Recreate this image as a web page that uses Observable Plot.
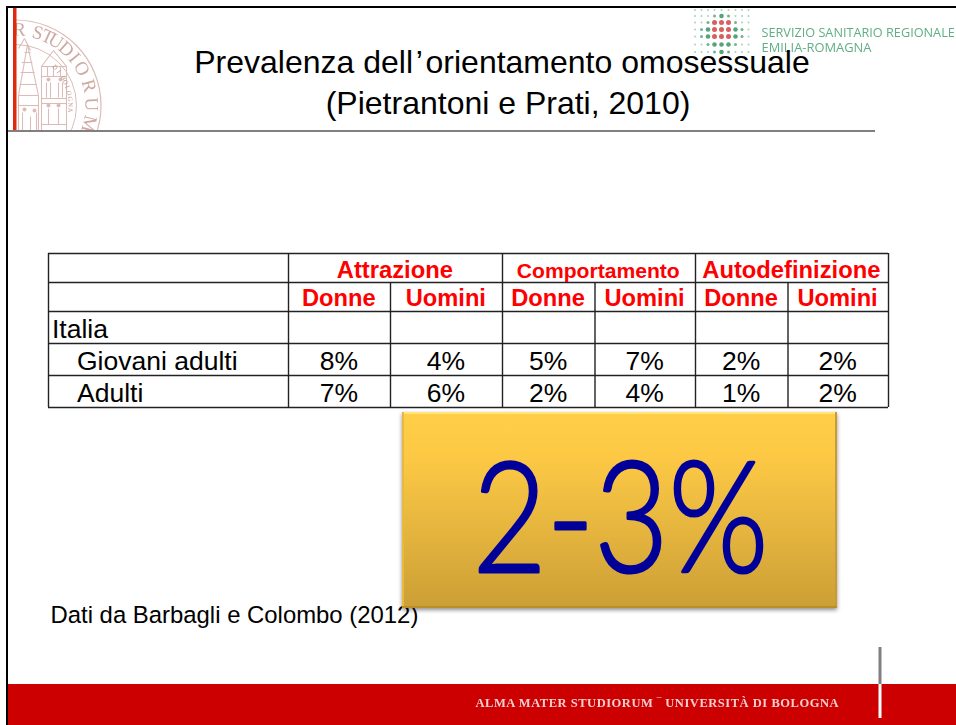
<!DOCTYPE html>
<html><head><meta charset="utf-8">
<script src="https://cdn.jsdelivr.net/npm/d3@7"></script>
<script src="https://cdn.jsdelivr.net/npm/@observablehq/plot@0.6"></script>
<style>html,body{margin:0;padding:0;background:#fff}svg{display:block}</style>
</head><body><div id="chart"></div>
<script>
// ---- Chart content ----
const titleLines = ["Prevalenza dell\u200A\u2019\u200Aorientamento omosessuale", "(Pietrantoni e Prati, 2010)"];
const groups = ["Attrazione", "Comportamento", "Autodefinizione"];
const sexes = ["Donne", "Uomini"];
const rowLabels = ["Italia", "Giovani adulti", "Adulti"];
const giovaniAdulti = [8, 4, 5, 7, 2, 2];
const adulti = [7, 6, 2, 4, 1, 2];
const callout = "2-3%";
const sourceNote = "Dati da Barbagli e Colombo (2012)";
const footerText = "ALMA MATER STUDIORUM \u203E UNIVERSIT\u00C0 DI BOLOGNA";
const regionLines = ["SERVIZIO SANITARIO REGIONALE", "EMILIA-ROMAGNA"];
const sealLetters = ["R","S","T","U","D","I","O","R","U","M"];
const sealInner = ["D","I"," ","B","O","L","O","G","N","A"];
// Logo dot matrix: 0 pale, 1 green, 2 big green, 3 red
const logoRows = [
  [0,0,0,0,0,0,0,0,0],
  [0,0,0,1,2,1,0,0,0],
  [0,0,1,3,3,3,1,0,0],
  [0,1,2,3,3,3,2,1,0],
  [0,1,2,3,3,3,2,1,0],
  [0,0,1,2,2,2,1,0,0],
  [0,0,0,1,2,1,0,0,0]
];

// ---- Layout ----
const W = 956, H = 725;
const colEdges = [48, 288, 390, 502, 594.5, 695, 787.5, 888];
const rowEdges = [253, 282, 311, 343, 375, 407];
const baselines = [277.5, 305.5, 337.5, 369.5, 401.5];
const mid = (a, b) => (a + b) / 2 - 0.7;
const font = "Liberation Sans";
const seal = "#dcbcb7";
const sealC = [15, 105];
const polar = (r, deg) => [sealC[0] + r * Math.sin(deg * Math.PI / 180), sealC[1] - r * Math.cos(deg * Math.PI / 180)];
const letterAngles = [3, 17, 25, 32, 42, 51, 61, 75, 89, 104];
const innerAngles = [46, 52, 56, 60, 65, 71, 77, 83, 89, 95];

const groupCells = groups.map((g, i) => ({g, x: mid(colEdges[1 + i * 2], colEdges[3 + i * 2]), size: g === "Comportamento" ? 21.1 : 23.75}));
const sexCells = d3.range(6).map(i => ({s: sexes[i % 2], x: mid(colEdges[i + 1], colEdges[i + 2])}));
const valueCells = [giovaniAdulti, adulti].flatMap((vals, r) => vals.map((v, i) => ({
  t: v + "%", x: mid(colEdges[i + 1], colEdges[i + 2]), y: baselines[3 + r]})));
const rowCells = rowLabels.map((t, i) => ({t, x: i ? 76.5 : 51.5, y: baselines[2 + i]}));

const hLines = rowEdges.map(y => ({y}));
const vLines = [
  {x: colEdges[0], y1: rowEdges[0], y2: rowEdges[5]},
  {x: colEdges[1], y1: rowEdges[0], y2: rowEdges[5]},
  {x: colEdges[2], y1: rowEdges[1], y2: rowEdges[5]},
  {x: colEdges[3], y1: rowEdges[0], y2: rowEdges[5]},
  {x: colEdges[4], y1: rowEdges[1], y2: rowEdges[5]},
  {x: colEdges[5], y1: rowEdges[0], y2: rowEdges[5]},
  {x: colEdges[6], y1: rowEdges[1], y2: rowEdges[5]},
  {x: colEdges[7], y1: rowEdges[0], y2: rowEdges[5]}
];
const logoX = [694.5, 701, 707.5, 714, 721, 728, 735, 741.5, 748];
const logoY = [9.5, 15.5, 22, 29, 36, 44, 51.5];
const logoFill = ["#a9d0b9", "#6fb48e", "#55a378", "#d9605f"];
const logoR = [1, 1.5, 2.3, 2.5];
const logoDots = logoRows.flatMap((row, j) => row.map((k, i) => ({x: logoX[i], y: logoY[j], k, size: logoR[k], color: logoFill[k]})));

// seal drawing: simplified towers and figures
const sealSegs = [
  [27,44,18,95],[27,44,38,95],[18,95,38,95],[18,105,38,105],[18,95,18,130],[38,95,38,130],
  [20,72,34,72],[21,62,32,62],[19,84,36,84],[24,52,30,52],
  [41,66,66,66],[41,66,53,50],[66,66,53,50],[41,66,41,130],[66,66,66,130],
  [41,76,66,76],[41,98,66,98],[41,103,66,103],[41,124,66,124],[47,66,47,76],[53,66,53,76],[60,66,60,76],
  [18,48,24,38],[24,38,30,50],
  [46,82,46,97],[50,82,50,97],[58,82,58,97],[62,82,62,97],
  [22,112,22,130],[30,116,30,130],[36,112,36,130],[48,108,48,124],[58,108,58,124]
].map(([x1,y1,x2,y2]) => ({x1,y1,x2,y2}));
const sealHeads = [[48,79],[60,79],[48,105],[58,105],[24,109],[34,110]].map(([x,y]) => ({x,y}));

const blur = "blur(0.5px)";
const sealText = sealLetters.map((t, i) => { const [x, y] = polar(76, letterAngles[i]); return {t, x, y, r: letterAngles[i]}; });
const sealSmall = sealInner.map((t, i) => { const [x, y] = polar(55, innerAngles[i]); return {t, x, y, r: innerAngles[i]}; });

const gradient = () => {
  const s = d3.create("svg:defs");
  const g = s.append("linearGradient").attr("id", "boxGrad").attr("x1", 0).attr("x2", 0).attr("y1", 0).attr("y2", 1);
  [[0, "#ffce47"], [0.22, "#fdc945"], [0.6, "#e5b53e"], [1, "#cc9f35"]].forEach(([o, c]) => g.append("stop").attr("offset", o).attr("stop-color", c));
  return s.node();
};

const chart = Plot.plot({
  width: W, height: H, margin: 0,
  x: {domain: [0, W], range: [0, W], axis: null},
  y: {domain: [0, H], range: [0, H], axis: null},
  r: {type: "identity"},
  style: {background: "#fff"},
  marks: [
    gradient,
    // seal
    Plot.dot([{x: sealC[0], y: sealC[1]}], {x: "x", y: "y", r: 85.5, stroke: seal, strokeWidth: 1.2, fill: "none", imageFilter: blur}),
    Plot.dot([{x: sealC[0], y: sealC[1]}], {x: "x", y: "y", r: 61, stroke: seal, strokeWidth: 1, fill: "none", imageFilter: blur}),
    Plot.link(sealSegs, {x1: "x1", y1: "y1", x2: "x2", y2: "y2", stroke: seal, strokeWidth: 1.1, imageFilter: blur}),
    Plot.dot(sealHeads, {x: "x", y: "y", r: 2, fill: seal, imageFilter: blur}),
    Plot.text(sealText, {x: "x", y: "y", text: "t", rotate: "r", fontSize: 19, fontFamily: "Liberation Serif", fill: "#cfa9a3", imageFilter: blur}),
    Plot.text(sealSmall, {x: "x", y: "y", text: "t", rotate: "r", fontSize: 6.5, fontFamily: "Liberation Serif", fill: "#c09792", imageFilter: blur}),
    // white masks around the cropped seal
    Plot.rect([0], {x1: 0, x2: 13, y1: 0, y2: 200, fill: "#fff"}),
    Plot.rect([0], {x1: 0, x2: 110, y1: 130, y2: 200, fill: "#fff"}),
    // slide frame
    Plot.rect([0], {x1: 6, x2: 8, y1: 6, y2: H, fill: "#000"}),
    Plot.rect([0], {x1: 6, x2: W, y1: 6, y2: 8, fill: "#000"}),
    Plot.rect([0], {x1: 13, x2: 16.5, y1: 8, y2: 130, fill: "#dd2a10"}),
    Plot.rect([0], {x1: 8, x2: 875, y1: 130, y2: 132, fill: "#808080"}),
    // regional logo
    Plot.dot(logoDots, {x: "x", y: "y", r: "size", fill: "color", imageFilter: "blur(0.4px)"}),
    Plot.text(regionLines, {x: 761, y: (d, i) => [36, 51.5][i], text: d => d, textAnchor: "start", lineAnchor: "bottom",
      fontSize: (d, i) => [12.7, 12.9][i], fontWeight: (d, i) => [600, 400][i], fontFamily: "Open Sans", fill: "#5fae85", imageFilter: "blur(0.3px)"}),
    // title
    Plot.text(titleLines, {x: (d, i) => [501.5, 507.5][i], y: (d, i) => [72.5, 113][i], text: d => d, fontSize: 32, fontFamily: font, fill: "#000", lineAnchor: "bottom"}),
    // table
    Plot.ruleY(hLines, {y: "y", x1: colEdges[0], x2: colEdges[7], stroke: "#222", strokeWidth: 1.4}),
    Plot.ruleX(vLines, {x: "x", y1: "y1", y2: "y2", stroke: "#222", strokeWidth: 1.4}),
    Plot.text(groupCells, {x: "x", y: baselines[0], text: "g", fontSize: "size", fontWeight: 700, fontFamily: font, fill: "#ff0000", lineAnchor: "bottom"}),
    Plot.text(sexCells, {x: "x", y: baselines[1], text: "s", fontSize: 23.7, fontWeight: 700, fontFamily: font, fill: "#ff0000", lineAnchor: "bottom"}),
    Plot.text(rowCells, {x: "x", y: "y", text: "t", textAnchor: "start", fontSize: 26.5, fontFamily: font, fill: "#000", lineAnchor: "bottom"}),
    Plot.text(valueCells, {x: "x", y: "y", text: "t", fontSize: 26.5, fontFamily: font, fill: "#000", lineAnchor: "bottom"}),
    // source note
    Plot.text([sourceNote], {x: 50, y: 622, text: d => d, textAnchor: "start", fontSize: 23.9, fontFamily: font, fill: "#000", lineAnchor: "bottom"}),
    // callout box
    Plot.rect([0], {x1: 402, x2: 837, y1: 412, y2: 608, fill: "url(#boxGrad)", imageFilter: "drop-shadow(0px 2px 2px rgba(0,0,0,0.45))"}),
    Plot.rect([0], {x1: 402, x2: 837, y1: 412, y2: 414, fill: "#ffe47e"}),
    Plot.rect([0], {x1: 402, x2: 404, y1: 412, y2: 608, fill: "#e8b93f"}),
    Plot.rect([0], {x1: 835, x2: 837, y1: 412, y2: 608, fill: "#c99b33"}),
    Plot.rect([0], {x1: 402, x2: 837, y1: 606, y2: 608, fill: "#b98f2c"}),
    Plot.text([callout], {x: 620, y: 571, text: d => d, fontSize: 155, fontFamily: "Lato", fontWeight: 300, fill: "#000099", stroke: "#000099", strokeWidth: 3, lineAnchor: "bottom", className: "callout"}),
    // footer
    Plot.rect([0], {x1: 8, x2: W, y1: 684, y2: H, fill: "#cc0000"}),
    Plot.rect([0], {x1: 878.5, x2: 881.5, y1: 647, y2: 684, fill: "#808080"}),
    Plot.rect([0], {x1: 878.5, x2: 881.5, y1: 684, y2: 718, fill: "#fff"}),
    Plot.text([footerText], {x: 656.5, y: 706, text: d => d, fontSize: 12.5, fontWeight: 700, fontFamily: "Liberation Serif", fill: "#f6d0d0", lineAnchor: "bottom", imageFilter: "blur(0.3px)", className: "footer"})
  ]
});
document.getElementById("chart").append(chart);
chart.querySelectorAll(".callout text, text.callout").forEach(t => { t.setAttribute("textLength", 296); t.setAttribute("lengthAdjust", "spacingAndGlyphs"); });
chart.querySelectorAll(".footer text, text.footer").forEach(t => { t.setAttribute("textLength", 363); t.setAttribute("lengthAdjust", "spacing"); });
</script></body></html>
